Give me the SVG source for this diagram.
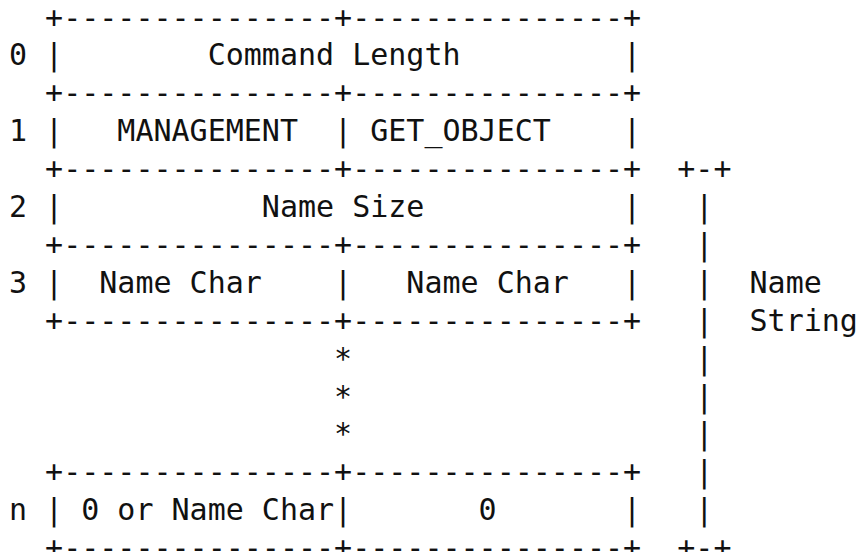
<svg xmlns="http://www.w3.org/2000/svg" width="861" height="552" viewBox="0 0 861 552">
<style>
  text { font-family: "DejaVu Sans Mono", "Liberation Mono", monospace; font-size: 30px; fill: #111111; white-space: pre; }
</style>
<rect x="0" y="0" width="861" height="552" fill="#ffffff"/>
<g id="row-0">
  <text x="9" y="27.5" xml:space="preserve">  +---------------+---------------+</text>
  <text x="9" y="65.4" xml:space="preserve">0 |        Command Length         |</text>
</g>
<g id="row-1">
  <text x="9" y="103.3" xml:space="preserve">  +---------------+---------------+</text>
  <text x="9" y="141.2" xml:space="preserve">1 |   MANAGEMENT  | GET_OBJECT    |</text>
</g>
<g id="row-2">
  <text x="9" y="179.1" xml:space="preserve">  +---------------+---------------+  +-+</text>
  <text x="9" y="217" xml:space="preserve">2 |           Name Size           |   |</text>
</g>
<g id="row-3">
  <text x="9" y="254.9" xml:space="preserve">  +---------------+---------------+   |</text>
  <text x="9" y="292.8" xml:space="preserve">3 |  Name Char    |   Name Char   |   |  Name</text>
  <text x="9" y="330.7" xml:space="preserve">  +---------------+---------------+   |  String</text>
</g>
<g id="ellipsis">
  <text x="9" y="368.6" xml:space="preserve">                  *                   |</text>
  <text x="9" y="406.5" xml:space="preserve">                  *                   |</text>
  <text x="9" y="444.4" xml:space="preserve">                  *                   |</text>
</g>
<g id="row-n">
  <text x="9" y="482.3" xml:space="preserve">  +---------------+---------------+   |</text>
  <text x="9" y="520.2" xml:space="preserve">n | 0 or Name Char|       0       |   |</text>
  <text x="9" y="558.1" xml:space="preserve">  +---------------+---------------+  +-+</text>
</g>
</svg>
